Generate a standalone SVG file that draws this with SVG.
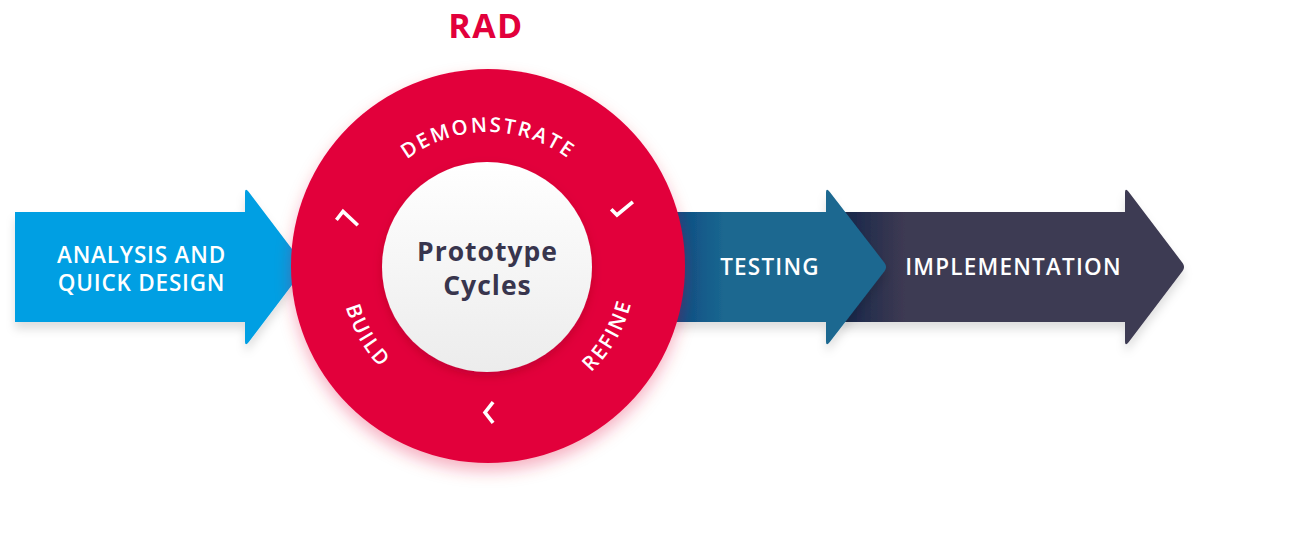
<svg xmlns="http://www.w3.org/2000/svg" width="1290" height="546" viewBox="0 0 1290 546">
<defs>
<style>
.lbl{font-family:"Open Sans","Noto Sans",sans-serif;font-weight:600;fill:#ffffff;text-anchor:middle;}
.arc{font-family:"Open Sans","Noto Sans",sans-serif;font-weight:600;fill:#ffffff;font-size:20.5px;letter-spacing:2.2px;}
.chev{fill:none;stroke:#ffffff;stroke-width:3.6;stroke-linecap:square;stroke-linejoin:miter;}
.ctr{font-family:"Open Sans","Noto Sans",sans-serif;font-weight:700;fill:#38354d;text-anchor:middle;font-size:26.5px;letter-spacing:1px;}
</style>
<filter id="sh" x="-10%" y="-20%" width="120%" height="150%">
<feDropShadow dx="0" dy="7" stdDeviation="5" flood-color="#000000" flood-opacity="0.13"/>
</filter>
<filter id="shr" x="-20%" y="-20%" width="140%" height="140%">
<feDropShadow dx="0" dy="8" stdDeviation="8" flood-color="#e2003b" flood-opacity="0.3"/>
</filter>
<filter id="shw" x="-20%" y="-20%" width="140%" height="140%">
<feDropShadow dx="0" dy="4" stdDeviation="5" flood-color="#7a0020" flood-opacity="0.3"/>
</filter>
<linearGradient id="gTest" gradientUnits="userSpaceOnUse" x1="676" y1="0" x2="725" y2="0">
<stop offset="0" stop-color="#0b4b83"/>
<stop offset="1" stop-color="#1b6890"/>
</linearGradient>
<linearGradient id="gImpl" gradientUnits="userSpaceOnUse" x1="850" y1="0" x2="905" y2="0">
<stop offset="0" stop-color="#1b294c"/>
<stop offset="1" stop-color="#3e3a52"/>
</linearGradient>
<linearGradient id="gIn" x1="0" y1="0" x2="0" y2="1">
<stop offset="0" stop-color="#ffffff"/>
<stop offset="1" stop-color="#ececec"/>
</linearGradient>
<path id="pDemo" d="M 354,266 A 134,134 0 0 1 622,266"/>
<path id="pBuild" d="M 342.25,240.3 A 148,148 0 0 0 437.4,405.1"/>
<path id="pRefine" d="M 538.6,405.1 A 148,148 0 0 0 633.75,240.3"/>
</defs>
<rect width="1290" height="546" fill="#ffffff"/>

<g id="implementation">
<path filter="url(#sh)" fill="url(#gImpl)" d="M 840,212 H 1125 V 193 Q 1125,187 1128.6,191.8 L 1182.6,263 Q 1185.5,267 1182.6,271 L 1128.6,342.2 Q 1125,347 1125,341 V 322 H 840 Z"/>
<text class="lbl" x="1013.5" y="275" font-size="22.5" letter-spacing="1.2">IMPLEMENTATION</text>
</g>

<g id="testing">
<path filter="url(#sh)" fill="url(#gTest)" d="M 660,212 H 826 V 193 Q 826,187 829.6,191.8 L 884.6,263 Q 887.5,267 884.6,271 L 829.6,342.2 Q 826,347 826,341 V 322 H 660 Z"/>
<text class="lbl" x="770" y="275" font-size="22.5" letter-spacing="1.2">TESTING</text>
</g>

<g id="analysis">
<path filter="url(#sh)" fill="#009fe3" d="M 15,212 H 245 V 193 Q 245,187 248.6,191.8 L 302.6,263 Q 305.5,267 302.6,271 L 248.6,342.2 Q 245,347 245,341 V 322 H 15 Z"/>
<text class="lbl" x="141.5" y="263" font-size="22.5" letter-spacing="0.8">ANALYSIS AND</text>
<text class="lbl" x="141.5" y="291" font-size="22.5" letter-spacing="0.8">QUICK DESIGN</text>
</g>

<g id="rad-cycle">
<circle cx="488" cy="266" r="197" fill="#e2003b" filter="url(#shr)"/>
<circle cx="487" cy="267" r="105" fill="url(#gIn)" filter="url(#shw)"/>
<text class="ctr" x="487.5" y="261">Prototype</text>
<text class="ctr" x="487.5" y="295">Cycles</text>
<text class="arc"><textPath href="#pDemo" startOffset="50%" text-anchor="middle">DEMONSTRATE</textPath></text>
<text class="arc"><textPath href="#pBuild" startOffset="50%" text-anchor="middle">BUILD</textPath></text>
<text class="arc"><textPath href="#pRefine" startOffset="50%" text-anchor="middle">REFINE</textPath></text>
<polyline class="chev" points="337.5,218.5 343,211.5 356.5,224"/>
<polyline class="chev" points="612.5,210.5 617,215 631.5,203"/>
<polyline class="chev" points="492,403.5 485,412.5 492,421.5"/>
</g>

<g id="title">
<text x="486" y="38" font-family="Open Sans, Noto Sans, sans-serif" font-weight="700" font-size="34" fill="#e2003b" text-anchor="middle" letter-spacing="1.5">RAD</text>
</g>
<g id="connectors"></g>
</svg>
